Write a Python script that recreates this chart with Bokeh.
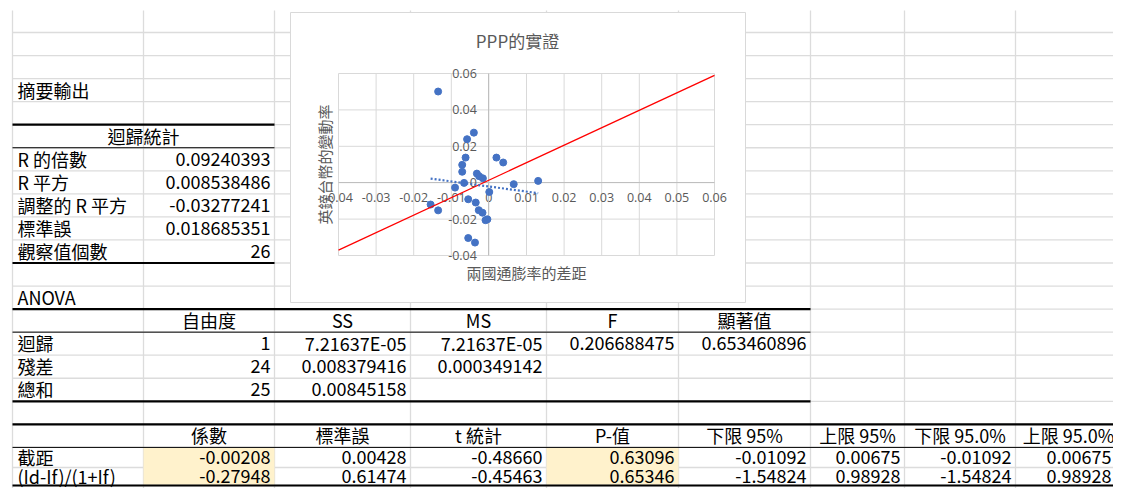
import math
from bokeh.plotting import figure
from bokeh.models import (Range1d, LinearAxis, FixedTicker, PrintfTickFormatter,
                          ColumnDataSource)
from bokeh.core.properties import value
from bokeh.embed import file_html
from bokeh.resources import INLINE

# ---------------- data ----------------
x_diff = [-0.0135, -0.0040, -0.0058, -0.0062, -0.0071, -0.0071, 0.0020, 0.0038,
          -0.0032, -0.0026, -0.0016, -0.0066, -0.0090, 0.0066, 0.0131, 0.0001,
          -0.0055, -0.0035, -0.0155, -0.0135, -0.0027, -0.0017, -0.0009, -0.0004,
          -0.0055, -0.0037]
y_rate = [0.0501, 0.0275, 0.0239, 0.0138, 0.0098, 0.0060, 0.0138, 0.0111,
          0.0050, 0.0036, 0.0024, -0.0001, -0.0027, -0.0008, 0.0010, -0.0051,
          -0.0091, -0.0109, -0.0120, -0.0152, -0.0151, -0.0165, -0.0206, -0.0201,
          -0.0304, -0.0329]
ppp_x = [-0.04, 0.06]
ppp_y = [-0.037, 0.059]
intercept = -0.00208
slope = -0.27948
x_ticks = [-0.04, -0.03, -0.02, -0.01, 0, 0.01, 0.02, 0.03, 0.04, 0.05, 0.06]
y_ticks = [-0.04, -0.02, 0, 0.02, 0.04, 0.06]

chart_title = "PPP的實證"
x_title = "兩國通膨率的差距"
y_title = "英鎊台幣的變動率"

summary_title = "摘要輸出"
reg_stats_header = "迴歸統計"
reg_stats_labels = ["R 的倍數", "R 平方", "調整的 R 平方", "標準誤", "觀察值個數"]
reg_stats_values = ["0.09240393", "0.008538486", "-0.03277241", "0.018685351", "26"]
anova_title = "ANOVA"
anova_header = ["", "自由度", "SS", "MS", "F", "顯著值"]
anova_rows = [["迴歸", "1", "7.21637E-05", "7.21637E-05", "0.206688475", "0.653460896"],
              ["殘差", "24", "0.008379416", "0.000349142", "", ""],
              ["總和", "25", "0.00845158", "", "", ""]]
coef_header = ["", "係數", "標準誤", "t 統計", "P-值", "下限 95%", "上限 95%",
               "下限 95.0%", "上限 95.0%"]
coef_rows = [["截距", "-0.00208", "0.00428", "-0.48660", "0.63096", "-0.01092",
              "0.00675", "-0.01092", "0.00675"],
             ["(Id-If)/(1+If)", "-0.27948", "0.61474", "-0.45463", "0.65346",
              "-1.54824", "0.98928", "-1.54824", "0.98928"]]

# ---------------- layout ----------------
OX, OY = 0, 0
W, H = 1113, 488
FONT = "Noto Sans CJK TC"
GRID = "#DCDCDC"

col_edges = [12, 143, 274, 410, 546, 678, 810, 904, 1015, 1121]
row_tops = [10] + [32 + 23.05 * i for i in range(21)]
row_tops[20] = 467.0
row_tops[21] = 485.0

def fx(v):
    return v - OX

def fy(v):
    return v - OY

# chart plot-area placement (screen px)
PL, PR, PT, PB = 338, 714, 73, 255
xspan = x_ticks[-1] - x_ticks[0]
yspan = y_ticks[-1] - y_ticks[0]
cx_start = x_ticks[0] - fx(PL) * xspan / (PR - PL)
cx_end = cx_start + W * xspan / (PR - PL)
cy_end = y_ticks[-1] + fy(PT) * yspan / (PB - PT)
cy_start = cy_end - H * yspan / (PB - PT)

p = figure(width=W, height=H, x_range=Range1d(0, W), y_range=Range1d(H, 0),
           x_axis_type=None, y_axis_type=None, toolbar_location=None,
           output_backend="svg", min_border=0)
p.outline_line_color = None
p.background_fill_color = "white"
p.border_fill_color = "white"
p.extra_x_ranges = {"cx": Range1d(cx_start, cx_end)}
p.extra_y_ranges = {"cy": Range1d(cy_start, cy_end)}

# sheet gridlines
hy = [fy(v) for v in row_tops[1:]]
p.segment(x0=[fx(12)] * len(hy), y0=hy, x1=[fx(1121)] * len(hy), y1=hy,
          line_color=GRID, line_width=1.3, level="image")
vx = [fx(v) for v in col_edges[:-1]]
p.segment(x0=vx, y0=[fy(10)] * len(vx), x1=vx, y1=[fy(496)] * len(vx),
          line_color=GRID, line_width=1.3, level="image")

# highlighted cells
for c in (1, 4):
    p.quad(left=fx(col_edges[c]), right=fx(col_edges[c + 1]),
           top=fy(row_tops[19]) + 0.7, bottom=fy(row_tops[21]) - 0.7,
           fill_color="#FFF2CC", line_color=None, level="image")

# borders
def hline(r, c0, c1, w):
    p.segment(x0=[fx(col_edges[c0])], y0=[fy(row_tops[r])],
              x1=[min(fx(col_edges[c1]), W)], y1=[fy(row_tops[r])],
              line_color="black", line_width=w, level="image")

hline(5, 0, 2, 2.2); hline(6, 0, 2, 1); hline(11, 0, 2, 2.2)
hline(13, 0, 6, 2.2); hline(14, 0, 6, 1); hline(17, 0, 6, 2.2)
hline(18, 0, 9, 2.2); hline(19, 0, 9, 1); hline(21, 0, 9, 2.2)

# sheet texts
texts = {"left": [], "right": [], "center": []}

def cell(r, c, t, align):
    if t == "":
        return
    y = (row_tops[r] + row_tops[r + 1]) / 2 - 0.5
    if align == "left":
        x = col_edges[c] + 5
    elif align == "right":
        x = min(col_edges[c + 1] - 4, OX + W - 2)
    else:
        x = (col_edges[c] + col_edges[c + 1]) / 2
    texts[align].append((fx(x), fy(y), t))

cell(3, 0, summary_title, "left")
texts["center"].append((fx((col_edges[0] + col_edges[2]) / 2),
                        fy((row_tops[5] + row_tops[6]) / 2 - 0.5), reg_stats_header))
for i, (lab, val) in enumerate(zip(reg_stats_labels, reg_stats_values)):
    cell(6 + i, 0, lab, "left")
    cell(6 + i, 1, val, "right")
cell(12, 0, anova_title, "left")
for c, t in enumerate(anova_header):
    cell(13, c, t, "center")
for i, row in enumerate(anova_rows):
    for c, t in enumerate(row):
        cell(14 + i, c, t, "left" if c == 0 else "right")
for c, t in enumerate(coef_header):
    cell(18, c, t, "center")
for i, row in enumerate(coef_rows):
    for c, t in enumerate(row):
        cell(19 + i, c, t, "left" if c == 0 else "right")

for align, items in texts.items():
    src = ColumnDataSource(dict(x=[a[0] for a in items], y=[a[1] for a in items],
                                t=[a[2] for a in items]))
    p.text(x="x", y="y", text="t", source=src, text_align=align,
           text_baseline="middle", text_font=value(FONT), text_font_size="18px",
           text_color="#000000", level="image")

# chart box
p.quad(left=fx(290), right=fx(745), top=fy(12), bottom=fy(302),
       fill_color="white", line_color="#D9D9D9", line_width=1, level="image")

# chart gridlines
n = len(x_ticks)
p.segment(x0=x_ticks, y0=[y_ticks[0]] * n, x1=x_ticks, y1=[y_ticks[-1]] * n,
          x_range_name="cx", y_range_name="cy", line_color="#D9D9D9",
          line_width=1, level="image")
m = len(y_ticks)
p.segment(x0=[x_ticks[0]] * m, y0=y_ticks, x1=[x_ticks[-1]] * m, y1=y_ticks,
          x_range_name="cx", y_range_name="cy", line_color="#D9D9D9",
          line_width=1, level="image")

# axes crossing at zero
axis_style = dict(x_range_name="cx", y_range_name="cy", fixed_location=0,
                  formatter=PrintfTickFormatter(format="%g"),
                  axis_line_color="#BFBFBF", axis_line_width=1,
                  major_tick_line_color=None, minor_tick_line_color=None,
                  major_tick_in=0, major_tick_out=0,
                  major_label_text_font="Open Sans",
                  major_label_text_font_size="12.5px",
                  major_label_text_color="#595959", level="underlay")
xaxis = LinearAxis(ticker=FixedTicker(ticks=x_ticks),
                   bounds=(x_ticks[0], x_ticks[-1]), major_label_standoff=10,
                   **axis_style)
yaxis = LinearAxis(ticker=FixedTicker(ticks=y_ticks),
                   bounds=(y_ticks[0], y_ticks[-1]), major_label_standoff=12,
                   **axis_style)
p.add_layout(xaxis, "below")
p.add_layout(yaxis, "left")

# data
p.scatter(x_diff, y_rate, x_range_name="cx", y_range_name="cy", size=7,
          fill_color="#4472C4", line_color="#4472C4")
p.line(ppp_x, ppp_y, x_range_name="cx", y_range_name="cy",
       line_color="#FF0000", line_width=1.3)
tx = [min(x_diff), max(x_diff)]
ty = [intercept + slope * v for v in tx]
p.line(tx, ty, x_range_name="cx", y_range_name="cy", line_color="#4472C4",
       line_width=2.2, line_dash="2 2")

# chart titles
p.text(x=[fx(517)], y=[fy(40)], text=[chart_title], text_align="center",
       text_baseline="middle", text_font=value(FONT), text_font_size="17px",
       text_color="#595959")
p.text(x=[fx((PL + PR) / 2)], y=[fy(272)], text=[x_title], text_align="center",
       text_baseline="middle", text_font=value(FONT), text_font_size="15px",
       text_color="#595959")
p.text(x=[fx(324)], y=[fy((PT + PB) / 2)], text=[y_title], text_align="center",
       text_baseline="middle", text_font=value(FONT), text_font_size="15px",
       text_color="#595959", angle=math.pi / 2)

open("out.html", "w").write(file_html(p, INLINE))
